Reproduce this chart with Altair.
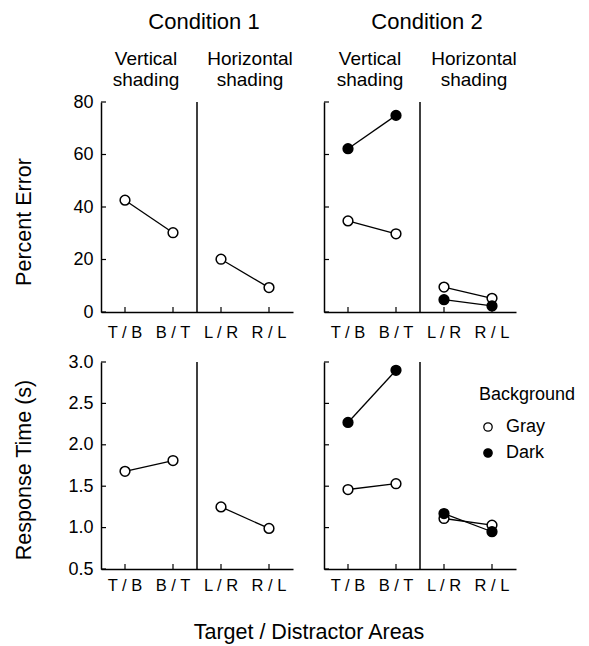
import altair as alt
import pandas as pd

# ---------------- data ----------------
categories = ["T / B", "B / T", "L / R", "R / L"]
shading = ["Vertical", "Vertical", "Horizontal", "Horizontal"]
backgrounds = ["Gray", "Dark"]

c1_err_gray = [42.6, 30.2, 20.1, 9.3]
c2_err_gray = [34.7, 29.8, 9.5, 5.2]
c2_err_dark = [62.2, 74.9, 4.7, 2.3]

c1_rt_gray = [1.68, 1.81, 1.25, 0.99]
c2_rt_gray = [1.46, 1.53, 1.11, 1.03]
c2_rt_dark = [2.27, 2.90, 1.17, 0.95]

err_ticks = [0, 20, 40, 60, 80]
rt_ticks = [0.5, 1.0, 1.5, 2.0, 2.5, 3.0]

# ---------------- style ----------------
FONT = "Liberation Sans"
W = 192
H_TOP = 210
H_BOT = 207
TICK = 5


def frame(series):
    rows = []
    for bg, vals in series:
        for cat, sh, v in zip(categories, shading, vals):
            rows.append({"cat": cat, "shade": sh, "bg": bg, "y": v})
    return pd.DataFrame(rows)


def text(t, x, y, size, angle=0, align="center", baseline="alphabetic"):
    return alt.Chart(pd.DataFrame({"t": [t]})).mark_text(
        font=FONT, fontSize=size, color="black", angle=angle,
        align=align, baseline=baseline
    ).encode(text="t:N", x=alt.value(x), y=alt.value(y))


def panel(series, ticks, domain, height, show_labels, label_pad, fmt, extras, legend=None):
    df = frame(series)
    xscale = alt.Scale(type="band", domain=categories, paddingInner=0, paddingOuter=0)
    xaxis = alt.Axis(title=None, labelAngle=0, ticks=False, domain=True,
                     domainColor="black", domainWidth=1.5, labelFontSize=16.5,
                     labelPadding=label_pad, labelColor="black", labelFont=FONT,
                     grid=False)
    yscale = alt.Scale(domain=domain, nice=False, zero=False)
    yaxis = alt.Axis(title=None, values=ticks, ticks=False, domain=True,
                     domainColor="black", domainWidth=1.5, labels=show_labels,
                     labelFontSize=18, labelPadding=8, labelColor="black",
                     labelFont=FONT, format=fmt, grid=False)

    x = alt.X("cat:N", scale=xscale, axis=xaxis, sort=categories)
    y = alt.Y("y:Q", scale=yscale, axis=yaxis)

    lines = alt.Chart(df).mark_line(color="black", strokeWidth=1.3).encode(
        x=x, y=y, detail=["bg:N", "shade:N"])
    pts = alt.Chart(df).mark_circle(size=95, stroke="black", strokeWidth=1.5, opacity=1).encode(
        x=x, y=y,
        fill=alt.Fill("bg:N", scale=alt.Scale(domain=backgrounds, range=["white", "black"]),
                      legend=legend))

    divider = alt.Chart(pd.DataFrame({"cat": ["L / R"]})).mark_rule(
        color="black", strokeWidth=1.5).encode(
        x=alt.X("cat:N", scale=xscale, axis=xaxis, bandPosition=0),
        y=alt.value(0), y2=alt.value(height))

    yt = alt.Chart(pd.DataFrame({"y": ticks})).mark_rule(color="black", strokeWidth=1.2).encode(
        y=y, x=alt.value(0), x2=alt.value(TICK))
    xt = alt.Chart(pd.DataFrame({"cat": categories})).mark_rule(color="black", strokeWidth=1.2).encode(
        x=x, y=alt.value(height), y2=alt.value(height - TICK))

    return alt.layer(lines, divider, yt, xt, pts, *extras).properties(width=W, height=height)


legend = alt.Legend(
    title="Background", orient="none", legendX=155, legendY=24, padding=0,
    titleFont=FONT, titleFontSize=18, titleFontWeight="normal", titleColor="black",
    titlePadding=14, labelFont=FONT, labelFontSize=18, labelColor="black",
    symbolType="circle", symbolSize=70, symbolStrokeColor="black",
    symbolStrokeWidth=1.3, rowPadding=8, labelOffset=9,
)

tl = panel([("Gray", c1_err_gray)], err_ticks, [0, 80], H_TOP, True, 12, "d", [
    text("Condition 1", 103, -73, 22),
    text("Vertical", 45, -37, 19),
    text("shading", 45, -16, 19),
    text("Horizontal", 149, -37, 19),
    text("shading", 149, -16, 19),
    text("Percent Error", -76, 120, 21.5, angle=270, baseline="middle"),
])

tr = panel([("Gray", c2_err_gray), ("Dark", c2_err_dark)], err_ticks, [0, 80], H_TOP, False, 12, "d", [
    text("Condition 2", 103, -73, 22),
    text("Vertical", 46, -37, 19),
    text("shading", 46, -16, 19),
    text("Horizontal", 150, -37, 19),
    text("shading", 150, -16, 19),
])

bl = panel([("Gray", c1_rt_gray)], rt_ticks, [0.5, 3.0], H_BOT, True, 8, ".1f", [
    text("Response Time (s)", -76, 108, 21.5, angle=270, baseline="middle"),
    text("Target / Distractor Areas", 208, 277, 21.5),
])

br = panel([("Gray", c2_rt_gray), ("Dark", c2_rt_dark)], rt_ticks, [0.5, 3.0], H_BOT, False, 8, ".1f", [],
           legend=legend)

chart = alt.concat(
    tl, tr, bl, br, columns=2, spacing={"row": 50, "column": 31}, bounds="flush"
).resolve_scale(fill="independent").properties(
    padding={"left": 6, "top": 3, "right": 5, "bottom": 5}
).configure(font=FONT, view=alt.ViewConfig(stroke=None))

chart.save("out.html", embed_options={"renderer": "svg", "actions": False})
